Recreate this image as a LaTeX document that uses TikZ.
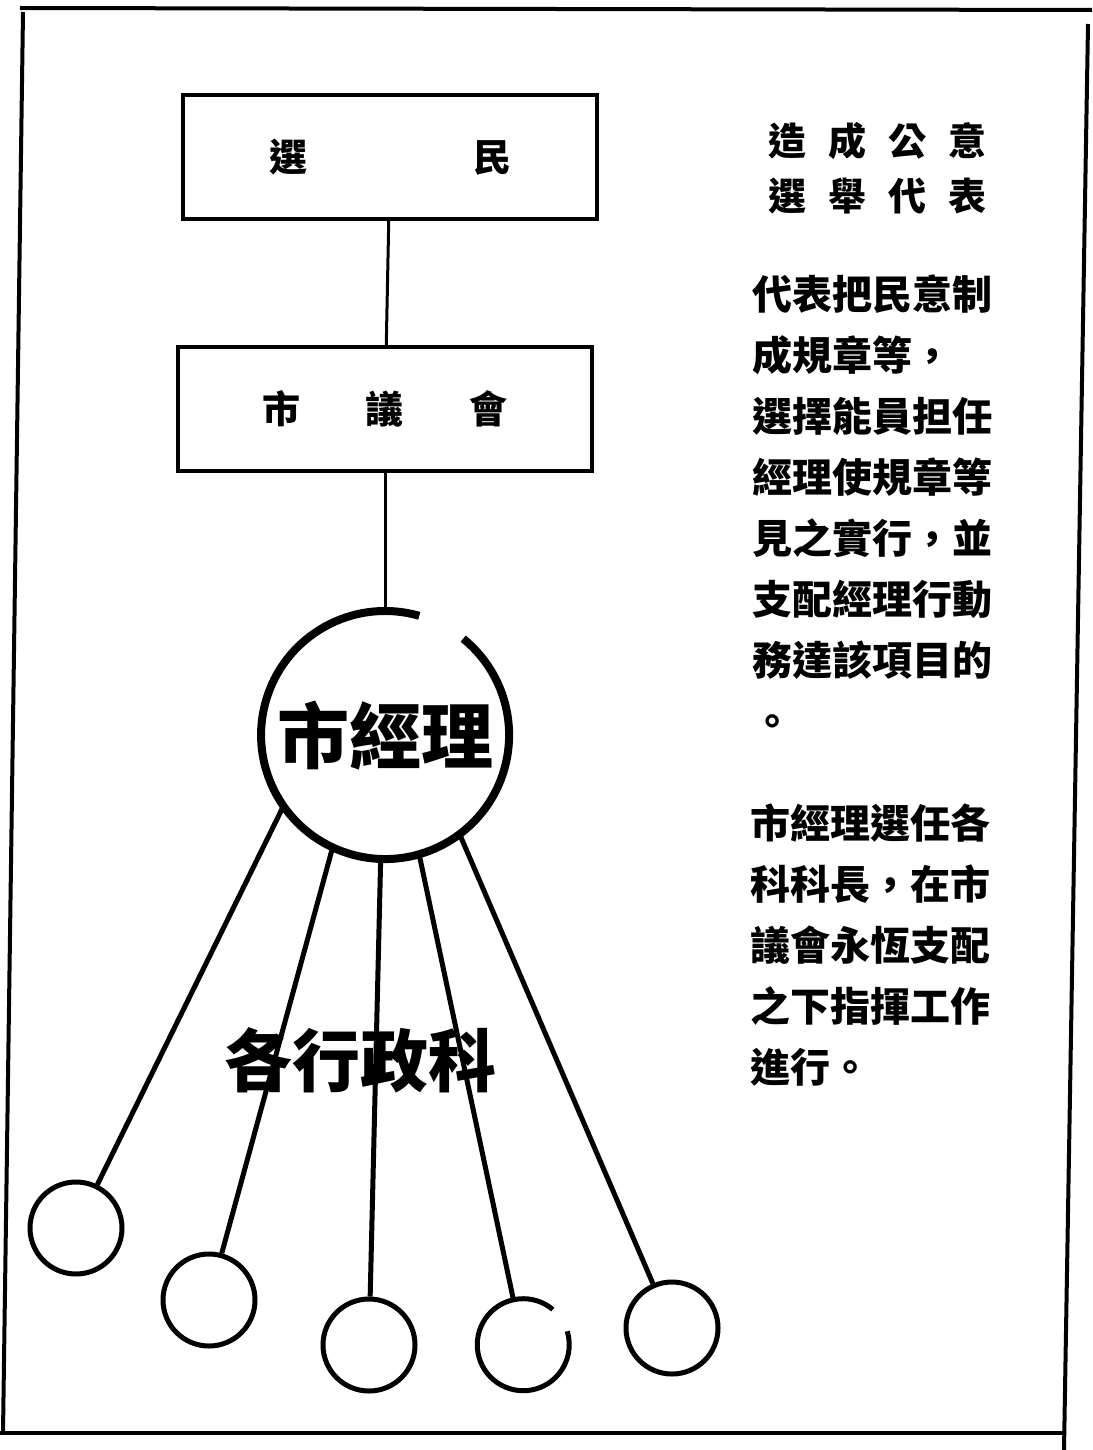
\documentclass[tikz,border=0pt]{standalone}
\usepackage{fontspec}
\newfontfamily\cjk{Noto Sans CJK TC}
\usetikzlibrary{positioning}

\begin{document}
\begin{tikzpicture}[
    x=0.5pt, y=-0.5pt,
    box/.style={rectangle, draw, line width=2pt, minimum width=207pt, minimum height=62pt, inner sep=0pt, font=\cjk\bfseries\fontsize{19}{19}\selectfont},
    head/.style={circle, inner sep=0pt, minimum size=124pt, font=\cjk\bfseries\fontsize{36}{36}\selectfont},
    dept/.style={circle, inner sep=0pt, minimum size=46pt},
    link/.style={line width=1.5pt},
    spoke/.style={line width=2.5pt},
    note/.style={anchor=west, align=left, inner sep=0pt, font=\cjk\bfseries\fontsize{20}{30.5}\selectfont}
]
\path[use as bounding box, fill=white] (0,0) rectangle (1092,1450);

% frame of the scanned page
\draw[line width=2pt] (20,8) -- (1092,10);
\draw[line width=2pt] (23,12) -- (3,1433);
\draw[line width=2pt] (0,1433) -- (1066,1433);
\draw[line width=2pt] (1088,24) -- (1064,1450);

\node[box] (voters) at (390,157) {選\hspace{83pt}民};
\node[box, below=62pt of voters, xshift=-2.5pt] (council) {市\hspace{33pt}議\hspace{33pt}會};
\node[head, below=69pt of council] (mgr) {市經理};

\node[dept, draw, line width=2.5pt] (s1) at (76,1228) {};
\node[dept, draw, line width=2.5pt] (s2) at (209,1300) {};
\node[dept, draw, line width=2.5pt] (s3) at (369,1345) {};
\node[dept] (s4) at (523,1345) {};
\node[dept, draw, line width=2.5pt] (s5) at (672,1328) {};

\draw[line width=4pt] (mgr.74) arc[start angle=74, end angle=411, radius=62pt];
\draw[line width=2.5pt] (s4.50) arc[start angle=50, end angle=377, radius=23pt];

\draw[link] (voters) -- (council);
\draw[link] (council) -- (mgr);

\draw[spoke] (mgr.215) -- (s1);
\draw[spoke] (mgr.245) -- (s2);
\draw[spoke] (mgr.268) -- (s3);
\draw[spoke] (mgr.286) -- (s4);
\draw[spoke] (mgr.307) -- (s5);

\node[font=\cjk\bfseries\fontsize{34}{34}\selectfont] (deptlabel) at (360,1060) {各行政科};

\node[note, font=\cjk\bfseries\fontsize{19}{27.5}\selectfont] (idea) at (768,168)
    {造\hspace{11pt}成\hspace{11pt}公\hspace{11pt}意\\選\hspace{11pt}舉\hspace{11pt}代\hspace{11pt}表};
\node[note] (duty) at (752,506)
    {代表把民意制\\成規章等，\\選擇能員担任\\經理使規章等\\見之實行，並\\支配經理行動\\務達該項目的\\。};
\node[note] (staff) at (750,945)
    {市經理選任各\\科科長，在市\\議會永恆支配\\之下指揮工作\\進行。};

\end{tikzpicture}
\end{document}
